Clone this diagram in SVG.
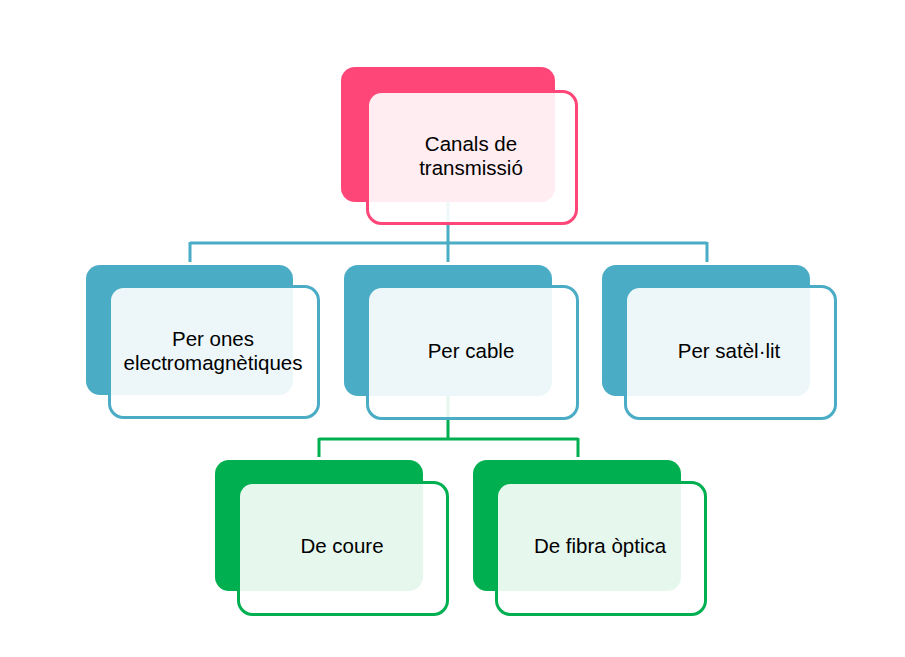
<svg xmlns="http://www.w3.org/2000/svg" width="905" height="657" viewBox="0 0 905 657">
<style>
.back{rx:14px;ry:14px}
.front{fill:#ffffff;fill-opacity:0.9;stroke-width:3}
.pink .back{fill:#ff4678}
.pink .front{stroke:#ff4678}
.blue .back{fill:#4bacc6}
.blue .front{stroke:#4bacc6}
.green .back{fill:#00b050}
.green .front{stroke:#00b050}
text{font-family:"Liberation Sans",Arial,sans-serif;font-size:20.5px;fill:#000000;text-anchor:middle}
.conn{fill:none;stroke-width:3}
</style>
<rect width="905" height="657" fill="#ffffff"/>
<g id="connectors">
<path class="conn" stroke="#4bacc6" d="M448,202 V243 M190,243 H707 M190,242 V262 M448,243 V262 M707,242 V262"/>
<path class="conn" stroke="#00b050" d="M448,396 V439 M319,439 H578 M319,438 V457 M578,438 V457"/>
</g>
<g id="node-canals" class="pink">
<rect class="back" x="341" y="67" width="214" height="135" rx="14"/>
<rect class="front" x="367.5" y="91.5" width="209" height="132" rx="14"/>
<text x="471" y="151">Canals de</text>
<text x="471" y="175">transmissió</text>
</g>
<g id="node-ones" class="blue">
<rect class="back" x="86" y="265" width="207" height="130" rx="14"/>
<rect class="front" x="109.5" y="286.5" width="209" height="131" rx="14"/>
<text x="213" y="346">Per ones</text>
<text x="213" y="370">electromagnètiques</text>
</g>
<g id="node-cable" class="blue">
<rect class="back" x="344" y="265" width="208" height="131" rx="14"/>
<rect class="front" x="367.5" y="286.5" width="210" height="132" rx="14"/>
<text x="471" y="358">Per cable</text>
</g>
<g id="node-satelit" class="blue">
<rect class="back" x="602" y="265" width="208" height="131" rx="14"/>
<rect class="front" x="625.5" y="286.5" width="210" height="132" rx="14"/>
<text x="729" y="358">Per satèl·lit</text>
</g>
<g id="node-coure" class="green">
<rect class="back" x="215" y="460" width="208" height="131" rx="14"/>
<rect class="front" x="238.5" y="482.5" width="209" height="132" rx="14"/>
<text x="342" y="553">De coure</text>
</g>
<g id="node-fibra" class="green">
<rect class="back" x="473" y="460" width="208" height="131" rx="14"/>
<rect class="front" x="496.5" y="482.5" width="209" height="132" rx="14"/>
<text x="600" y="553">De fibra òptica</text>
</g>
</svg>
